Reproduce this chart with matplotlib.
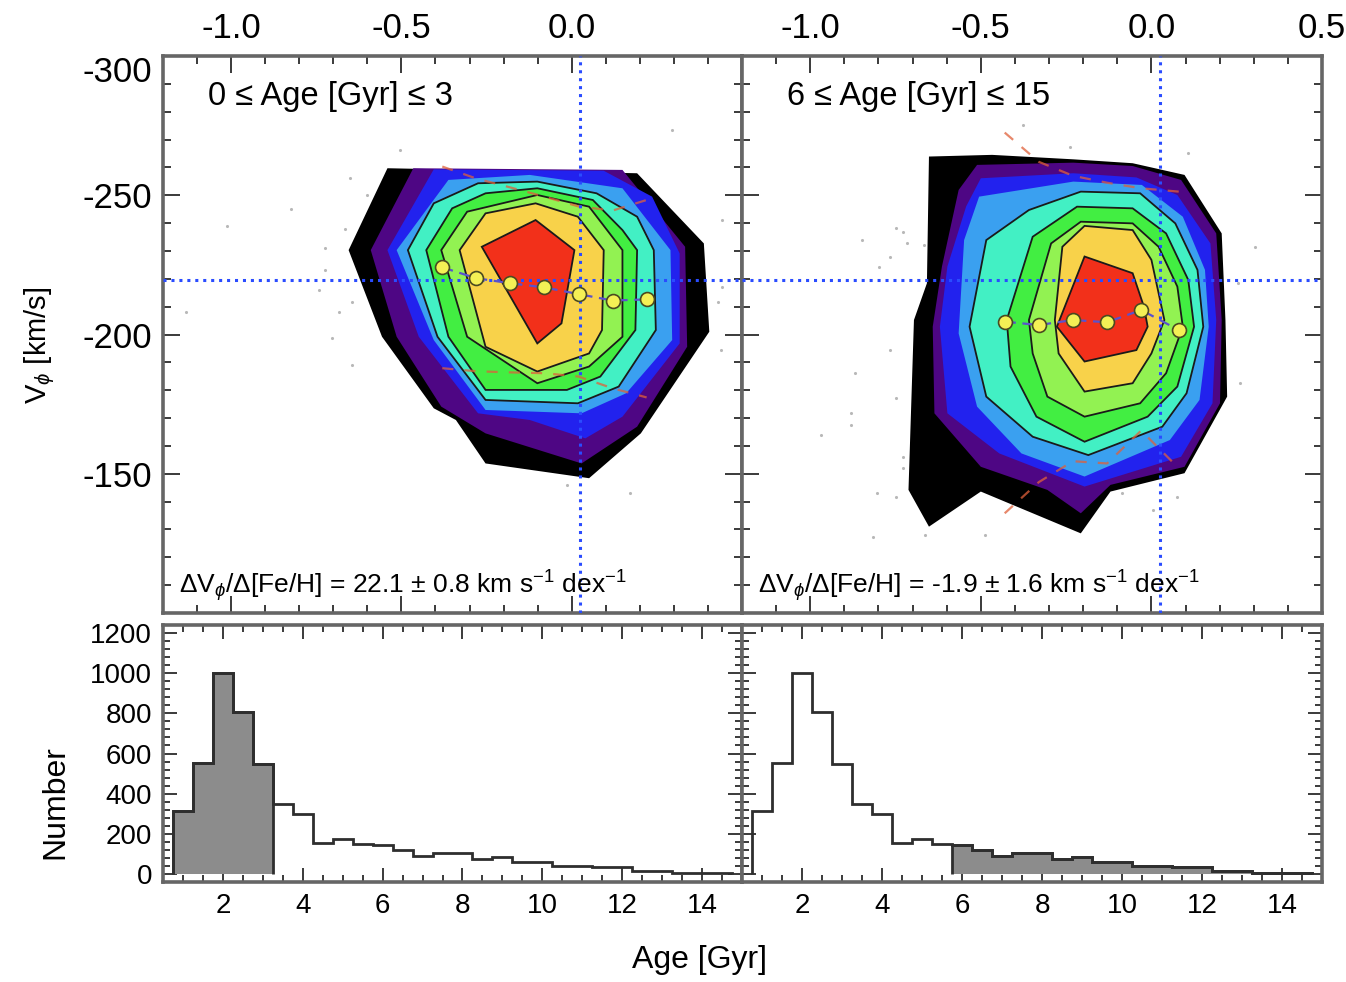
import matplotlib
matplotlib.use("Agg")
import matplotlib.pyplot as plt
from matplotlib.ticker import MultipleLocator, FixedLocator
import numpy as np

plt.rcParams['font.family'] = ['Liberation Sans', 'DejaVu Sans']
plt.rcParams['mathtext.fontset'] = 'custom'
plt.rcParams['mathtext.rm'] = 'Liberation Sans'
plt.rcParams['mathtext.it'] = 'Liberation Sans:italic'
plt.rcParams['mathtext.sf'] = 'Liberation Sans'

# ---------------- data ----------------
level_colors = ['#000000', '#4e0684', '#2222ee', '#3aa0f0', '#42f0c4',
                '#42ee42', '#92f252', '#f8d24a', '#f2301a']

# contour level outlines ([Fe/H], V_phi) -- young stars (0-3 Gyr)
young_lvl0 = [(-0.541, -259.7), (0.192, -257.9), (0.388, -232.7), (0.404, -201.0), (0.203, -164.5),
              (0.051, -148.4), (-0.253, -153.7), (-0.340, -169.3), (-0.405, -173.5), (-0.557, -199.2),
              (-0.655, -230.3)]
young_lvl1 = [(-0.465, -259.7), (0.149, -259.1), (0.333, -231.5), (0.339, -195.6), (0.192, -166.9),
              (0.029, -153.7), (-0.253, -164.5), (-0.383, -174.1), (-0.514, -199.2), (-0.590, -230.3)]
young_lvl2 = [(-0.405, -259.3), (0.094, -258.8), (0.236, -249.5), (0.317, -229.1), (0.317, -196.8),
              (0.149, -170.5), (0.040, -162.7), (-0.123, -169.3), (-0.275, -171.7), (-0.449, -199.2),
              (-0.541, -230.3)]
young_lvl3 = [(-0.362, -255.5), (-0.123, -257.3), (0.149, -252.5), (0.290, -230.3), (0.295, -198.0),
              (0.160, -178.9), (0.029, -171.7), (-0.253, -172.9), (-0.405, -198.0), (-0.514, -230.3)]
young_lvl4 = [(-0.481, -230.3), (-0.405, -247.1), (-0.275, -254.3), (-0.101, -254.9), (0.073, -250.7),
              (0.192, -242.3), (0.241, -230.3), (0.247, -201.6), (0.138, -181.3), (0.018, -175.3),
              (-0.253, -176.5), (-0.394, -199.2)]
young_lvl5 = [(-0.427, -230.3), (-0.351, -245.3), (-0.253, -250.7), (-0.101, -252.5), (0.062, -248.3),
              (0.149, -237.5), (0.192, -230.3), (0.187, -201.6), (0.084, -184.9), (-0.014, -180.1),
              (-0.253, -180.1), (-0.362, -199.2)]
young_lvl6 = [(-0.383, -230.3), (-0.307, -244.1), (-0.101, -250.1), (0.051, -245.9), (0.149, -230.3),
              (0.149, -199.2), (0.051, -188.5), (-0.101, -182.5), (-0.307, -199.2)]
young_lvl7 = [(-0.329, -230.3), (-0.253, -243.5), (-0.106, -247.1), (0.018, -242.3), (0.094, -230.3),
              (0.089, -201.6), (0.051, -193.2), (-0.101, -186.7), (-0.253, -195.6)]
young_lvl8 = [(-0.264, -231.5), (-0.106, -241.1), (0.008, -230.3), (-0.030, -204.0), (-0.101, -196.8)]

# contour level outlines -- old stars (6-15 Gyr)
old_lvl0 = [(-0.652, -263.9), (-0.467, -264.5), (-0.229, -262.9), (-0.055, -261.5), (0.097, -257.3),
            (0.206, -236.3), (0.217, -205.2), (0.222, -177.7), (0.097, -150.2), (-0.120, -143.6),
            (-0.207, -128.6), (-0.500, -143.6), (-0.652, -131.0), (-0.712, -144.2), (-0.696, -205.2),
            (-0.658, -218.4)]
old_lvl1 = [(-0.511, -260.9), (-0.229, -261.7), (-0.055, -260.5), (0.087, -255.5), (0.190, -236.3),
            (0.206, -205.2), (0.201, -175.3), (0.097, -152.5), (-0.120, -146.0), (-0.207, -135.8),
            (-0.305, -144.2), (-0.500, -152.5), (-0.636, -171.7), (-0.641, -202.8), (-0.614, -224.4),
            (-0.565, -251.9)]
old_lvl2 = [(-0.500, -256.1), (-0.229, -257.9), (-0.044, -256.4), (0.076, -250.1), (0.173, -232.7),
            (0.190, -205.2), (0.179, -175.3), (0.087, -156.1), (-0.196, -145.4), (-0.446, -157.3),
            (-0.598, -171.7), (-0.620, -202.8), (-0.598, -224.4), (-0.543, -246.0)]
old_lvl3 = [(-0.505, -249.5), (-0.229, -254.9), (-0.028, -253.7), (0.092, -242.3), (0.157, -223.2),
            (0.168, -202.8), (0.141, -176.5), (0.054, -162.1), (-0.196, -149.0), (-0.381, -157.3),
            (-0.511, -174.1), (-0.565, -200.4), (-0.549, -233.9)]
old_lvl4 = [(-0.484, -233.9), (-0.359, -244.7), (-0.207, -251.3), (-0.033, -250.7), (0.070, -239.9),
            (0.135, -223.2), (0.152, -202.8), (0.103, -178.9), (0.032, -166.9), (-0.185, -156.7),
            (-0.348, -163.3), (-0.484, -177.7), (-0.533, -202.8)]
old_lvl5 = [(-0.424, -205.2), (-0.348, -235.1), (-0.218, -245.9), (-0.055, -245.3), (0.043, -236.3),
            (0.108, -219.6), (0.125, -202.8), (0.076, -181.3), (-0.011, -170.5), (-0.196, -161.5),
            (-0.337, -170.5), (-0.413, -188.5)]
old_lvl6 = [(-0.359, -205.2), (-0.294, -232.7), (-0.207, -240.5), (-0.055, -239.9), (0.021, -231.5),
            (0.076, -217.2), (0.092, -202.8), (0.043, -186.1), (-0.033, -175.3), (-0.196, -170.5),
            (-0.305, -177.7), (-0.348, -193.2)]
old_lvl7 = [(-0.283, -205.2), (-0.261, -231.5), (-0.196, -239.0), (-0.055, -237.5), (0.000, -226.8),
            (0.038, -205.2), (0.000, -193.2), (-0.055, -182.5), (-0.196, -179.5), (-0.272, -193.2)]
old_lvl8 = [(-0.277, -202.8), (-0.196, -228.0), (-0.055, -222.0), (-0.022, -210.0), (-0.011, -202.8),
            (-0.044, -194.4), (-0.196, -190.3)]

# binned means and dispersion envelopes
young_feh_bins = [-0.38, -0.28, -0.18, -0.08, 0.02, 0.12, 0.22]
young_vphi_mean = [-224.1, -220.2, -218.4, -216.9, -214.5, -212.2, -212.6]
young_vphi_upper = [-260.3, -256.0, -252.8, -249.5, -246.0, -244.5, -248.3]
young_vphi_lower = [-187.9, -186.8, -186.4, -186.1, -184.9, -180.7, -177.4]

old_feh_bins = [-0.43, -0.33, -0.23, -0.13, -0.03, 0.08]
old_vphi_mean = [-204.6, -203.4, -205.2, -204.4, -208.8, -201.6]
old_vphi_upper = [-272.5, -262.0, -257.0, -254.5, -252.5, -251.3]
old_vphi_lower = [-135.8, -147.0, -154.5, -153.7, -165.5, -152.0]

# outlying individual stars
young_out_feh = [-0.503, -0.650, -0.601, -0.823, -1.013, -0.666, -0.723, -0.723, -0.742, -0.644,
                 -1.133, -0.682, -0.704, -0.644, 0.442, 0.442, 0.431, 0.437, -0.014, 0.171, 0.294]
young_out_vphi = [-266.3, -256.1, -250.1, -244.9, -238.9, -237.9, -231.2, -223.2, -216.0, -211.8,
                  -207.9, -207.9, -198.9, -189.0, -241.1, -217.2, -211.8, -194.4, -146.0, -143.0, -273.4]
old_out_feh = [-0.375, -0.239, 0.108, -0.750, -0.728, -0.848, -0.717, -0.668, -0.766, -0.799, 0.304,
               0.255, -0.766, -0.869, 0.260, -0.750, -0.880, -0.967, -0.880, -0.728, -0.728, -0.804,
               -0.750, -0.087, 0.076, 0.005, -0.815, -0.663, -0.489]
old_out_vphi = [-275.2, -267.4, -265.1, -238.1, -236.9, -233.9, -232.7, -232.1, -227.9, -224.4, -231.5,
                -218.4, -194.4, -186.1, -182.5, -177.1, -171.7, -163.9, -167.5, -156.1, -152.0, -143.0,
                -141.8, -143.0, -141.8, -137.0, -127.4, -128.0, -128.0]

# age histogram (0.5 Gyr bins)
age_bin_centers = [1.0, 1.5, 2.0, 2.5, 3.0, 3.5, 4.0, 4.5, 5.0, 5.5, 6.0, 6.5, 7.0, 7.5,
                   8.0, 8.5, 9.0, 9.5, 10.0, 10.5, 11.0, 11.5, 12.0, 12.5, 13.0, 13.5, 14.0, 14.5]
age_counts = [315, 552, 1002, 808, 548, 348, 300, 152, 172, 150, 146, 120, 88, 104,
              104, 75, 86, 58, 58, 41, 41, 34, 34, 16, 17, 5, 5, 5]

sun_feh = 0.025
sun_vphi = -219.6

young_label = '0 \u2264 Age [Gyr] \u2264 3'
old_label = '6 \u2264 Age [Gyr] \u2264 15'
young_slope = r'$\Delta$V$_{\phi}$/$\Delta$[Fe/H] = 22.1 $\pm$ 0.8 km s$^{-1}$ dex$^{-1}$'
old_slope = r'$\Delta$V$_{\phi}$/$\Delta$[Fe/H] = -1.9 $\pm$ 1.6 km s$^{-1}$ dex$^{-1}$'

# ---------------- figure ----------------
W, H = 1346, 982
fig = plt.figure(figsize=(W / 100, H / 100), dpi=100)

def fx(px):
    return px / W

def fy(py):
    return 1 - py / H

top_b, top_t = fy(613), fy(56)
bot_b, bot_t = fy(882), fy(625)
xl, xm, xr = fx(163), fx(742), fx(1322)

ax_tl = fig.add_axes([xl, top_b, xm - xl, top_t - top_b])
ax_tr = fig.add_axes([xm, top_b, xr - xm, top_t - top_b])
ax_bl = fig.add_axes([xl, bot_b, xm - xl, bot_t - bot_b])
ax_br = fig.add_axes([xm, bot_b, xr - xm, bot_t - bot_b])

spine_col = '#666666'
tick_col = '#3a3a3a'


def style_axes(ax):
    for s in ax.spines.values():
        s.set_linewidth(2.6)
        s.set_color(spine_col)
    ax.tick_params(which='both', direction='in', top=True, right=True,
                   color=tick_col, width=1.4)
    ax.tick_params(which='major', length=12)
    ax.tick_params(which='minor', length=6)


def draw_panel(ax, levels, bins, means, upper, lower, out_x, out_y, label, slope):
    ax.scatter(out_x, out_y, s=5, color='#b8b8b8', linewidths=0, zorder=1)
    for i, poly in enumerate(levels):
        xs = [p[0] for p in poly]
        ys = [p[1] for p in poly]
        ax.fill(xs, ys, color=level_colors[i], zorder=2 + i * 0.01, linewidth=0)
        if i >= 4:
            ax.fill(xs, ys, facecolor='none', edgecolor='#1a1a1a', linewidth=1.3,
                    zorder=2 + i * 0.01 + 0.005)
    ax.plot(bins, upper, ls=(0, (5, 5)), color='#e0603a', lw=1.6, alpha=0.75, zorder=3)
    ax.plot(bins, lower, ls=(0, (5, 5)), color='#e0603a', lw=1.6, alpha=0.75, zorder=3)
    ax.axvline(sun_feh, color='#2a4cff', ls=(0, (1, 1.6)), lw=2.2, zorder=4)
    ax.axhline(sun_vphi, color='#2a4cff', ls=(0, (1, 1.6)), lw=2.2, zorder=4)
    ax.plot(bins, means, ls=(0, (5, 3)), color='#5a52cc', lw=1.6, zorder=5)
    ax.plot(bins, means, ls='none', marker='o', ms=10, mfc='#f4f055', mec='#4a4a20',
            mew=1.2, zorder=6)
    ax.set_xlim(-1.2, 0.5)
    ax.set_ylim(-100, -300)
    ax.xaxis.set_major_locator(FixedLocator([-1.0, -0.5, 0.0, 0.5]))
    ax.xaxis.set_minor_locator(MultipleLocator(0.1))
    ax.yaxis.set_major_locator(MultipleLocator(50))
    ax.yaxis.set_minor_locator(MultipleLocator(10))
    style_axes(ax)
    ax.tick_params(labeltop=True, labelbottom=False, labelsize=25, pad=8)
    ax.text(0.077, 0.927, label, transform=ax.transAxes, fontsize=23.5,
            ha='left', va='center', zorder=10)
    ax.text(0.027, 0.048, slope, transform=ax.transAxes, fontsize=19,
            ha='left', va='center', zorder=10)


young_levels = [young_lvl0, young_lvl1, young_lvl2, young_lvl3, young_lvl4,
                young_lvl5, young_lvl6, young_lvl7, young_lvl8]
old_levels = [old_lvl0, old_lvl1, old_lvl2, old_lvl3, old_lvl4,
              old_lvl5, old_lvl6, old_lvl7, old_lvl8]

draw_panel(ax_tl, young_levels, young_feh_bins, young_vphi_mean, young_vphi_upper,
           young_vphi_lower, young_out_feh, young_out_vphi, young_label, young_slope)
draw_panel(ax_tr, old_levels, old_feh_bins, old_vphi_mean, old_vphi_upper,
           old_vphi_lower, old_out_feh, old_out_vphi, old_label, old_slope)

ax_tl.set_xticklabels(['-1.0', '-0.5', '0.0', ''])
ax_tl.set_yticks([-300, -250, -200, -150])
ax_tl.set_yticklabels(['-300', '-250', '-200', '-150'])
ax_tl.get_yticklabels()[0].set_verticalalignment('top')
ax_tr.set_xticklabels(['-1.0', '-0.5', '0.0', '0.5'])
ax_tr.tick_params(labelleft=False)

# histograms
centers = np.array(age_bin_centers)
counts = np.array(age_counts, dtype=float)
width = 0.5
edges = np.concatenate([centers - width / 2, [centers[-1] + width / 2]])

young_sel = centers <= 3.0
old_sel = centers >= 6.0


def draw_hist(ax, sel):
    idx = np.where(sel)[0]
    sub_edges = np.concatenate([edges[idx], [edges[idx[-1] + 1]]])
    ax.stairs(counts[idx], sub_edges, baseline=0, fill=True, color='#8c8c8c', zorder=2)
    ax.stairs(counts[idx], sub_edges, baseline=0, fill=False, color='#2e2e2e', lw=2.0, zorder=3)
    ax.stairs(counts, edges, baseline=0, fill=False, color='#2e2e2e', lw=2.0, zorder=3)
    ax.set_xlim(0.5, 15)
    ax.set_ylim(-40, 1240)
    ax.xaxis.set_major_locator(MultipleLocator(2))
    ax.xaxis.set_minor_locator(MultipleLocator(0.5))
    ax.yaxis.set_major_locator(MultipleLocator(200))
    ax.yaxis.set_minor_locator(MultipleLocator(40))
    style_axes(ax)
    ax.tick_params(labelsize=20, pad=8)
    ax.tick_params(which='major', length=10)
    ax.tick_params(which='minor', length=5)


draw_hist(ax_bl, young_sel)
draw_hist(ax_br, old_sel)
ax_bl.set_xticks([2, 4, 6, 8, 10, 12, 14])
ax_br.set_xticks([2, 4, 6, 8, 10, 12, 14])
ax_br.tick_params(labelleft=False)

# axis titles
fig.text(fx(40), fy(345), r'V$_{\phi}$ [km/s]', rotation=90, fontsize=21,
         ha='center', va='center')
fig.text(fx(55), fy(802), 'Number', rotation=90, fontsize=23,
         ha='center', va='center')
fig.text(fx(700), fy(960), 'Age [Gyr]', fontsize=23, ha='center', va='center')

fig.savefig('out.png', dpi=100)
